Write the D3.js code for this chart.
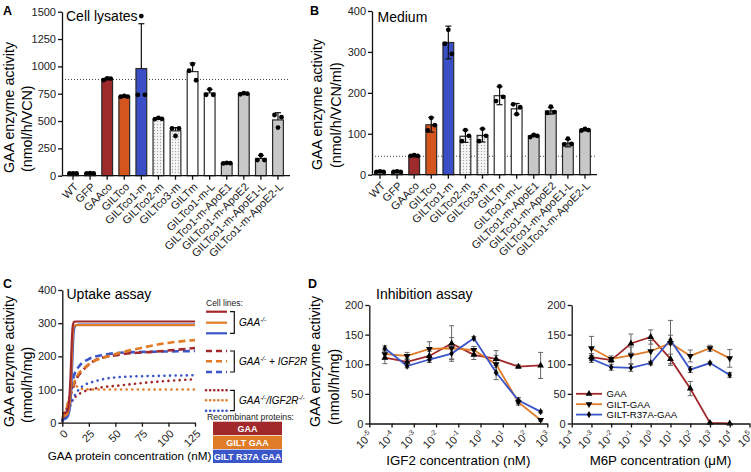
<!DOCTYPE html>
<html>
<head>
<meta charset="utf-8">
<script src="https://cdn.jsdelivr.net/npm/d3@7"></script>
<style>
  body { margin: 0; background: #fff; }
  svg { display: block; font-family: "Liberation Sans", Arial, sans-serif; }
  .axis path, .axis line { stroke: #111; stroke-width: 1.3; }
  .axis text { fill: #222; font-size: 11px; font-family: "Liberation Sans", Arial, sans-serif; }
</style>
</head>
<body>
<svg id="chart" width="751" height="472"></svg>
<script>
// ---- panels A / B : bar data ----
const barCats = ["WT", "GFP", "GAAco", "GILTco", "GILTco1-m", "GILTco2-m", "GILTco3-m",
  "GILTm", "GILTco1-m-L", "GILTco1-m-ApoE1", "GILTco1-m-ApoE2", "GILTco1-m-ApoE1-L", "GILTco1-m-ApoE2-L"];

const lysateMean = [20, 22, 885, 724, 980, 515, 410, 952, 757, 115, 750, 158, 510];
const lysateErr = [3, 3, 8, 5, 410, 10, 30, 78, 33, 5, 6, 28, 66];
const lysatePts = [[20, 22, 20], [22, 24, 20], [875, 890, 888], [722, 730, 724], [740, 1460, 740],
  [518, 528, 520], [432, 363, 432], [960, 1020, 873], [740, 790, 740], [112, 118, 115],
  [745, 755, 750], [143, 188, 143], [555, 440, 535]];
const lysateTicks = [0, 250, 500, 750, 1000, 1250, 1500];

const mediumMean = [7, 7, 46, 122, 323, 94, 96, 193, 161, 95, 156, 77, 109];
const mediumErr = [1, 1, 2, 18, 40, 15, 16, 22, 13, 2, 8, 9, 2];
const mediumPts = [[7, 8, 7], [7, 8, 7], [46, 48, 46], [108, 139, 121], [320, 354, 295],
  [82, 109, 95], [82, 112, 95], [180, 216, 190], [172, 148, 165], [92, 97, 95],
  [151, 166, 153], [74, 88, 75], [108, 112, 109]];
const mediumTicks = [0, 100, 200, 300, 400];

// ---- panel C : uptake curves (nM, nmol/h/mg) ----
const uptakeTicksX = [0, 25, 50, 75, 100, 125];
const uptakeTicksY = [0, 100, 200, 300, 400];
const koGAA = [[0, 28], [3, 30], [5, 36], [6.5, 70], [8, 160], [9, 250], [10, 295], [11, 304], [13, 305], [125, 305]];
const koGILT = [[0, 20], [3, 22], [5, 28], [7, 60], [8.5, 150], [9.5, 240], [10.5, 285], [11.5, 293], [14, 294], [125, 294]];
const koR37A = [[0, 10], [3, 12], [5, 18], [7, 40], [8.7, 120], [9.8, 210], [10.8, 275], [12, 291], [15, 296], [125, 296]];
const igf2rGAA = [[0, 10], [3, 30], [6, 60], [9, 95], [12, 123], [20, 160], [31, 188], [56, 206], [87, 214], [125, 225]];
const igf2rGILT = [[0, 15], [3, 35], [6, 65], [9, 100], [12, 128], [24, 173], [46, 203], [71, 223], [96, 239], [125, 249]];
const igf2rR37A = [[0, 5], [3, 25], [6, 55], [8, 90], [10.3, 134], [16.6, 173], [24.4, 191], [40, 205], [55, 211], [87, 214], [125, 216]];
const dkoGAA = [[0, 5], [3, 20], [6, 45], [9, 65], [13, 80], [19.6, 93], [31, 103], [56, 113], [87, 123], [125, 131]];
const dkoGILT = [[0, 10], [3, 30], [6, 70], [9, 105], [12, 112], [16, 104], [20, 101], [30, 100], [125, 100]];
const dkoR37A = [[0, 8], [3, 20], [6, 40], [8, 55], [10.3, 73], [18.2, 108], [31, 125], [56, 138], [87, 141], [125, 143]];

// ---- panel D : inhibition ----
const igf2Exps = [-5, -4, -3, -2, -1, 0, 1, 2, 3];
const igf2Conc = [5e-5, 5e-4, 5e-3, 5e-2, 0.5, 5, 50, 500];
const igf2GAA = [111, 104, 114, 135, 116, 109, 96, 98];
const igf2GAAsd = [10, 6, 8, 30, 8, 14, 3, 22];
const igf2GILT = [117, 114, 126, 127, 124, 100, 36, 6];
const igf2GILTsd = [8, 6, 12, 18, 6, 15, 5, 2];
const igf2R37A = [127, 97, 108, 118, 144, 86, 39, 20];
const igf2R37Asd = [4, 3, 5, 10, 3, 12, 5, 2];

const m6pExps = [-4, -3, -2, -1, 0, 1, 2, 3, 4, 5];
const m6pConc = [1e-3, 1e-2, 0.1, 1, 10, 100, 1000, 10000];
const m6pGAA = [112, 107, 135, 146, 109, 59, 1, 0];
const m6pGAAsd = [6, 4, 16, 12, 8, 12, 0, 0];
const m6pGILT = [127, 109, 115, 122, 136, 114, 127, 110];
const m6pGILTsd = [20, 5, 14, 18, 38, 10, 5, 15];
const m6pR37A = [109, 95, 94, 102, 141, 91, 102, 82];
const m6pR37Asd = [6, 5, 6, 3, 8, 5, 2, 4];
const inhibTicks = [0, 50, 100, 150, 200];

// colours
const red = "#a2292b", orange = "#e07b27", blue = "#3b56c8";
const barFills = ["#c8c8c8", "#c8c8c8", "#9e2a2b", "#d4561e", "#3a4fc5", "url(#stipple)", "url(#stipple)",
  "#fff", "#fff", "#c8c8c8", "#c8c8c8", "#c8c8c8", "#c8c8c8"];

const svg = d3.select("#chart");

const pat = svg.append("defs").append("pattern")
  .attr("id", "stipple").attr("width", 3).attr("height", 3)
  .attr("patternUnits", "userSpaceOnUse");
pat.append("rect").attr("width", 3).attr("height", 3).attr("fill", "#f6f6f6");
pat.append("circle").attr("cx", 1.5).attr("cy", 1.5).attr("r", 0.65).attr("fill", "#a8a8a8");

function panelLetter(t, x, y) {
  svg.append("text").text(t).attr("x", x).attr("y", y)
    .attr("font-size", 12.5).attr("font-weight", "bold");
}

function title(t, x, y) {
  svg.append("text").text(t).attr("x", x).attr("y", y).attr("font-size", 14);
}

function yLabel(lines) {
  lines.forEach(l => {
    svg.append("text").text(l.t)
      .attr("transform", `translate(${l.x},${l.y}) rotate(-90)`)
      .attr("font-size", 14.3);
  });
}

// ---------- bar panels ----------
function barPanel(p) {
  const x = d3.scaleBand().domain(barCats).range([p.left, p.right])
    .paddingInner(0.37).paddingOuter(0.33);
  const y = d3.scaleLinear().domain([0, p.max]).range([p.bottom, p.top]);
  const g = svg.append("g");

  g.append("line")
    .attr("x1", p.axisX).attr("x2", p.right)
    .attr("y1", y(p.ref)).attr("y2", y(p.ref))
    .attr("stroke", "#444").attr("stroke-width", 1).attr("stroke-dasharray", "1,2");

  g.selectAll("rect.bar").data(barCats).join("rect")
    .attr("class", "bar")
    .attr("x", d => x(d)).attr("width", x.bandwidth())
    .attr("y", (d, i) => y(p.means[i]))
    .attr("height", (d, i) => y(0) - y(p.means[i]))
    .attr("fill", (d, i) => barFills[i])
    .attr("stroke", "#2a2a2a").attr("stroke-width", 1.2);

  // error bars + points
  barCats.forEach((c, i) => {
    const cx = x(c) + x.bandwidth() / 2;
    const hi = p.means[i] + p.errs[i];
    const lo = p.both ? p.means[i] - p.errs[i] : p.means[i];
    g.append("line").attr("x1", cx).attr("x2", cx).attr("y1", y(hi)).attr("y2", y(lo))
      .attr("stroke", "#111").attr("stroke-width", 1.2);
    g.append("line").attr("x1", cx - 3).attr("x2", cx + 3).attr("y1", y(hi)).attr("y2", y(hi))
      .attr("stroke", "#111").attr("stroke-width", 1.2);
    if (p.both) {
      g.append("line").attr("x1", cx - 3).attr("x2", cx + 3).attr("y1", y(lo)).attr("y2", y(lo))
        .attr("stroke", "#111").attr("stroke-width", 1.2);
    }
    g.selectAll(null).data(p.pts[i]).join("circle")
      .attr("cx", (d, j) => cx + (j - 1) * 3.5)
      .attr("cy", d => y(d))
      .attr("r", 2.4).attr("fill", "#000");
  });

  g.append("g").attr("class", "axis")
    .attr("transform", `translate(${p.axisX},0)`)
    .call(d3.axisLeft(y).tickValues(p.ticks).tickFormat(d3.format("d"))
      .tickSize(4).tickSizeOuter(0).tickPadding(2));

  const xa = g.append("g").attr("class", "axis")
    .attr("transform", `translate(0,${y(0)})`)
    .call(d3.axisBottom(x).tickSize(4).tickSizeOuter(0));
  xa.select(".domain").remove();
  xa.append("line").attr("x1", p.axisX).attr("x2", p.right + 1).attr("stroke", "#111").attr("stroke-width", 1.5);
  xa.selectAll(".tick text")
    .attr("x", 0).attr("y", 0).attr("dy", "0.35em")
    .attr("text-anchor", "end")
    .attr("font-size", 10.5)
    .attr("transform", "translate(3,9) rotate(-45)");
}

barPanel({ left: 62, right: 289, axisX: 62, top: 11.7, bottom: 175.7, max: 1500,
  ticks: lysateTicks, means: lysateMean, errs: lysateErr, pts: lysatePts, ref: 880, both: false });
barPanel({ left: 369, right: 596, axisX: 372, top: 11, bottom: 174.7, max: 400,
  ticks: mediumTicks, means: mediumMean, errs: mediumErr, pts: mediumPts, ref: 45, both: true });

panelLetter("A", 3, 15);
panelLetter("B", 310, 15);
title("Cell lysates", 66, 21);
title("Medium", 377.5, 21.5);
yLabel([{ t: "GAA enzyme activity", x: 14, y: 173 }, { t: "(nmol/h/VCN)", x: 32, y: 172 }]);
yLabel([{ t: "GAA enzyme activity", x: 322, y: 170 }, { t: "(nmol/h/VCN/ml)", x: 341, y: 168 }]);

// ---------- panel C ----------
const cx = d3.scaleLinear().domain([0, 125]).range([62.3, 195]);
const cy = d3.scaleLinear().domain([0, 400]).range([422.7, 290]);
const styleMap = {
  solid: { dash: null, w: 2.2, cap: "butt" },
  dashed: { dash: "7,4", w: 2.6, cap: "butt" },
  dotted: { dash: "0.1,5.5", w: 2.6, cap: "round" }
};
const uptakeSeries = [
  { pts: dkoGILT, color: orange, s: "dotted" },
  { pts: dkoGAA, color: red, s: "dotted" },
  { pts: dkoR37A, color: blue, s: "dotted" },
  { pts: igf2rR37A, color: blue, s: "dashed" },
  { pts: igf2rGAA, color: red, s: "dashed" },
  { pts: igf2rGILT, color: orange, s: "dashed" },
  { pts: koR37A, color: blue, s: "solid" },
  { pts: koGILT, color: orange, s: "solid" },
  { pts: koGAA, color: red, s: "solid" }
];
const cLine = d3.line().x(d => cx(d[0])).y(d => cy(d[1])).curve(d3.curveMonotoneX);
const gC = svg.append("g");
uptakeSeries.forEach(s => {
  const st = styleMap[s.s];
  gC.append("path").attr("d", cLine(s.pts)).attr("fill", "none")
    .attr("stroke", s.color).attr("stroke-width", st.w)
    .attr("stroke-dasharray", st.dash).attr("stroke-linecap", st.cap);
});
gC.append("g").attr("class", "axis").attr("transform", `translate(${cx(0)},0)`)
  .call(d3.axisLeft(cy).tickValues(uptakeTicksY).tickSize(4).tickSizeOuter(0).tickPadding(2));
const cxa = gC.append("g").attr("class", "axis").attr("transform", `translate(0,${cy(0)})`)
  .call(d3.axisBottom(cx).tickValues(uptakeTicksX).tickSize(4).tickSizeOuter(0));
cxa.selectAll(".tick text")
  .attr("x", 0).attr("y", 0).attr("dy", "0.35em").attr("text-anchor", "end")
  .attr("transform", "translate(3,9) rotate(-45)");

panelLetter("C", 3, 288);
title("Uptake assay", 66.5, 298.5);
yLabel([{ t: "GAA enzyme activity", x: 14, y: 427 }, { t: "(nmol/h/mg)", x: 32, y: 423 }]);
svg.append("text").text("GAA protein concentration (nM)")
  .attr("x", 129.5).attr("y", 460).attr("text-anchor", "middle").attr("font-size", 11.7);

// legend C
svg.append("text").text("Cell lines:").attr("x", 206).attr("y", 306).attr("font-size", 8.5).attr("fill", "#222");
const legendGroups = [
  { s: "solid", ys: [311.7, 322.7, 333.3], label: [["GAA", 0], ["-/-", 1]], ty: 326 },
  { s: "dashed", ys: [351, 361.3, 372], label: [["GAA", 0], ["-/-", 1], [" + IGF2R", 0]], ty: 365 },
  { s: "dotted", ys: [390.3, 400.3, 410.7], label: [["GAA", 0], ["-/-", 1], ["/IGF2R", 0], ["-/-", 1]], ty: 404 }
];
const legendColors = [red, orange, blue];
legendGroups.forEach(lg => {
  const st = styleMap[lg.s];
  lg.ys.forEach((yy, i) => {
    svg.append("line").attr("x1", 206).attr("x2", 227).attr("y1", yy).attr("y2", yy)
      .attr("stroke", legendColors[i]).attr("stroke-width", st.w)
      .attr("stroke-dasharray", lg.s === "dotted" ? "0.1,4" : (lg.s === "dashed" ? "6,4" : null))
      .attr("stroke-linecap", st.cap);
  });
  const y0 = lg.ys[0], y1 = lg.ys[2];
  svg.append("path").attr("d", `M230,${y0}H234.3V${y1}H230`)
    .attr("fill", "none").attr("stroke", "#111").attr("stroke-width", 1.2);
  const t = svg.append("text").attr("x", 239).attr("y", lg.ty)
    .attr("font-size", 10).attr("font-style", "italic");
  let raised = false;
  lg.label.forEach(([s, sup]) => {
    const ts = t.append("tspan").text(s);
    if (sup && !raised) { ts.attr("dy", -4.5).attr("font-size", 6.5); raised = true; }
    else if (sup) { ts.attr("font-size", 6.5); }
    else if (raised) { ts.attr("dy", 4.5); raised = false; }
  });
});
svg.append("text").text("Recombinant proteins:").attr("x", 207).attr("y", 419.5)
  .attr("font-size", 8.7).attr("fill", "#222");
const boxNames = ["GAA", "GILT GAA", "GILT R37A GAA"];
boxNames.forEach((b, i) => {
  const yy = 421.7 + i * 14;
  svg.append("rect").attr("x", 213).attr("y", yy).attr("width", 69).attr("height", 13.3)
    .attr("fill", legendColors[i]);
  svg.append("text").text(b).attr("x", 247.5).attr("y", yy + 10)
    .attr("text-anchor", "middle").attr("fill", "#fff")
    .attr("font-size", 9).attr("font-weight", "bold");
});

// ---------- panel D ----------
function inhibPanel(p) {
  const x = d3.scaleLog().domain([Math.pow(10, p.exps[0]), Math.pow(10, p.exps[p.exps.length - 1])])
    .range([p.left, p.right]);
  const y = d3.scaleLinear().domain([0, 200]).range([423.5, 305]);
  const g = svg.append("g");

  const series = [
    { v: p.gaa, sd: p.gaaSd, color: red, sym: d3.symbolTriangle, rot: 0 },
    { v: p.gilt, sd: p.giltSd, color: orange, sym: d3.symbolTriangle, rot: 180 },
    { v: p.r37a, sd: p.r37aSd, color: blue, sym: d3.symbolDiamond, rot: 0 }
  ];
  series.forEach(s => {
    s.v.forEach((v, i) => {
      const xx = x(p.conc[i]);
      const a = y(v + s.sd[i]), b = y(v - s.sd[i]);
      g.append("path").attr("d", `M${xx},${a}V${b}M${xx - 2.5},${a}H${xx + 2.5}M${xx - 2.5},${b}H${xx + 2.5}`)
        .attr("stroke", "#666").attr("stroke-width", 1).attr("fill", "none");
    });
  });
  const line = d3.line().x((d, i) => x(p.conc[i])).y(d => y(d));
  series.forEach(s => {
    g.append("path").attr("d", line(s.v)).attr("fill", "none")
      .attr("stroke", s.color).attr("stroke-width", 1.8);
  });
  series.forEach(s => {
    g.selectAll(null).data(s.v).join("path")
      .attr("d", d3.symbol().type(s.sym).size(s.sym === d3.symbolDiamond ? 16 : 20))
      .attr("transform", (d, i) => `translate(${x(p.conc[i])},${y(d)}) rotate(${s.rot})`)
      .attr("fill", "#000");
  });

  g.append("g").attr("class", "axis").attr("transform", `translate(${p.left},0)`)
    .call(d3.axisLeft(y).tickValues(inhibTicks).tickSize(4).tickSizeOuter(0).tickPadding(2));
  const xa = g.append("g").attr("class", "axis").attr("transform", `translate(0,${y(0)})`)
    .call(d3.axisBottom(x).tickValues(p.exps.map(e => Math.pow(10, e))).tickFormat("")
      .tickSize(4).tickSizeOuter(0));
  xa.selectAll(".tick").each(function (d, i) {
    const t = d3.select(this).append("text")
      .attr("text-anchor", "end").attr("transform", "translate(1,10) rotate(-45)")
      .attr("fill", "#222").attr("font-size", 10.5).attr("dy", "0.35em");
    t.append("tspan").text("10");
    t.append("tspan").text(p.exps[i]).attr("font-size", 7).attr("dy", "-0.7em");
  });
  svg.append("text").text(p.xTitle).attr("x", (p.left + p.right) / 2).attr("y", 465)
    .attr("text-anchor", "middle").attr("font-size", 13.3);
}

inhibPanel({ left: 369.3, right: 547.3, exps: igf2Exps, conc: igf2Conc,
  gaa: igf2GAA, gaaSd: igf2GAAsd, gilt: igf2GILT, giltSd: igf2GILTsd, r37a: igf2R37A, r37aSd: igf2R37Asd,
  xTitle: "IGF2 concentration (nM)" });
inhibPanel({ left: 571.7, right: 749.5, exps: m6pExps, conc: m6pConc,
  gaa: m6pGAA, gaaSd: m6pGAAsd, gilt: m6pGILT, giltSd: m6pGILTsd, r37a: m6pR37A, r37aSd: m6pR37Asd,
  xTitle: "M6P concentration (\u03bcM)" });

panelLetter("D", 308, 288);
title("Inhibition assay", 376, 298.5);
yLabel([{ t: "GAA enzyme activity", x: 320, y: 427 }, { t: "(nmol/h/mg)", x: 339, y: 425 }]);

// legend D
const dLegend = [
  { name: "GAA", color: red, sym: d3.symbolTriangle, rot: 0 },
  { name: "GILT-GAA", color: orange, sym: d3.symbolTriangle, rot: 180 },
  { name: "GILT-R37A-GAA", color: blue, sym: d3.symbolDiamond, rot: 0 }
];
dLegend.forEach((d, i) => {
  const yy = 393.8 + i * 10.4;
  svg.append("line").attr("x1", 576).attr("x2", 602).attr("y1", yy).attr("y2", yy)
    .attr("stroke", d.color).attr("stroke-width", 1.8);
  svg.append("path").attr("d", d3.symbol().type(d.sym).size(d.sym === d3.symbolDiamond ? 16 : 20))
    .attr("transform", `translate(589,${yy}) rotate(${d.rot})`).attr("fill", "#000");
  svg.append("text").text(d.name).attr("x", 606.5).attr("y", yy + 3.6).attr("font-size", 9.6);
});
</script>
</body>
</html>
